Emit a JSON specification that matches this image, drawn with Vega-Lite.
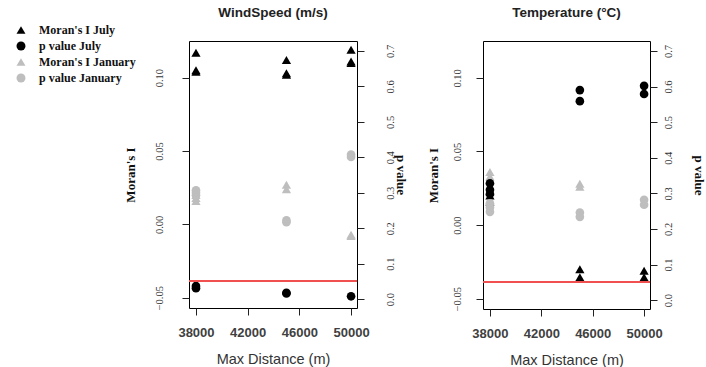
{
  "$schema": "https://vega.github.io/schema/vega-lite/v6.json",
  "padding": {"left": 15, "top": 5, "right": 0, "bottom": 0},
  "background": "white",
  "data": {"values": [
    {"panel": "wind", "dist": 38000, "series": "Moran's I July", "type": "I", "value": 0.117},
    {"panel": "wind", "dist": 38000, "series": "Moran's I July", "type": "I", "value": 0.105},
    {"panel": "wind", "dist": 38000, "series": "Moran's I July", "type": "I", "value": 0.104},
    {"panel": "wind", "dist": 45000, "series": "Moran's I July", "type": "I", "value": 0.112},
    {"panel": "wind", "dist": 45000, "series": "Moran's I July", "type": "I", "value": 0.103},
    {"panel": "wind", "dist": 45000, "series": "Moran's I July", "type": "I", "value": 0.102},
    {"panel": "wind", "dist": 50000, "series": "Moran's I July", "type": "I", "value": 0.119},
    {"panel": "wind", "dist": 50000, "series": "Moran's I July", "type": "I", "value": 0.111},
    {"panel": "wind", "dist": 50000, "series": "Moran's I July", "type": "I", "value": 0.110},
    {"panel": "wind", "dist": 38000, "series": "p value July", "type": "p", "value": 0.037},
    {"panel": "wind", "dist": 38000, "series": "p value July", "type": "p", "value": 0.031},
    {"panel": "wind", "dist": 45000, "series": "p value July", "type": "p", "value": 0.018},
    {"panel": "wind", "dist": 45000, "series": "p value July", "type": "p", "value": 0.016},
    {"panel": "wind", "dist": 50000, "series": "p value July", "type": "p", "value": 0.008},
    {"panel": "wind", "dist": 38000, "series": "Moran's I January", "type": "I", "value": 0.020},
    {"panel": "wind", "dist": 38000, "series": "Moran's I January", "type": "I", "value": 0.018},
    {"panel": "wind", "dist": 38000, "series": "Moran's I January", "type": "I", "value": 0.016},
    {"panel": "wind", "dist": 45000, "series": "Moran's I January", "type": "I", "value": 0.027},
    {"panel": "wind", "dist": 45000, "series": "Moran's I January", "type": "I", "value": 0.024},
    {"panel": "wind", "dist": 50000, "series": "Moran's I January", "type": "I", "value": -0.007},
    {"panel": "wind", "dist": 50000, "series": "Moran's I January", "type": "I", "value": -0.008},
    {"panel": "wind", "dist": 38000, "series": "p value January", "type": "p", "value": 0.307},
    {"panel": "wind", "dist": 38000, "series": "p value January", "type": "p", "value": 0.300},
    {"panel": "wind", "dist": 38000, "series": "p value January", "type": "p", "value": 0.293},
    {"panel": "wind", "dist": 45000, "series": "p value January", "type": "p", "value": 0.222},
    {"panel": "wind", "dist": 45000, "series": "p value January", "type": "p", "value": 0.217},
    {"panel": "wind", "dist": 50000, "series": "p value January", "type": "p", "value": 0.408},
    {"panel": "wind", "dist": 50000, "series": "p value January", "type": "p", "value": 0.401},
    {"panel": "temp", "dist": 38000, "series": "Moran's I July", "type": "I", "value": 0.023},
    {"panel": "temp", "dist": 38000, "series": "Moran's I July", "type": "I", "value": 0.020},
    {"panel": "temp", "dist": 38000, "series": "Moran's I July", "type": "I", "value": 0.016},
    {"panel": "temp", "dist": 45000, "series": "Moran's I July", "type": "I", "value": -0.030},
    {"panel": "temp", "dist": 45000, "series": "Moran's I July", "type": "I", "value": -0.0355},
    {"panel": "temp", "dist": 50000, "series": "Moran's I July", "type": "I", "value": -0.031},
    {"panel": "temp", "dist": 50000, "series": "Moran's I July", "type": "I", "value": -0.0355},
    {"panel": "temp", "dist": 38000, "series": "p value July", "type": "p", "value": 0.328},
    {"panel": "temp", "dist": 38000, "series": "p value July", "type": "p", "value": 0.310},
    {"panel": "temp", "dist": 38000, "series": "p value July", "type": "p", "value": 0.298},
    {"panel": "temp", "dist": 45000, "series": "p value July", "type": "p", "value": 0.590},
    {"panel": "temp", "dist": 45000, "series": "p value July", "type": "p", "value": 0.559},
    {"panel": "temp", "dist": 50000, "series": "p value July", "type": "p", "value": 0.602},
    {"panel": "temp", "dist": 50000, "series": "p value July", "type": "p", "value": 0.579},
    {"panel": "temp", "dist": 38000, "series": "Moran's I January", "type": "I", "value": 0.036},
    {"panel": "temp", "dist": 38000, "series": "Moran's I January", "type": "I", "value": 0.033},
    {"panel": "temp", "dist": 38000, "series": "Moran's I January", "type": "I", "value": 0.030},
    {"panel": "temp", "dist": 45000, "series": "Moran's I January", "type": "I", "value": 0.028},
    {"panel": "temp", "dist": 45000, "series": "Moran's I January", "type": "I", "value": 0.026},
    {"panel": "temp", "dist": 38000, "series": "p value January", "type": "p", "value": 0.272},
    {"panel": "temp", "dist": 38000, "series": "p value January", "type": "p", "value": 0.260},
    {"panel": "temp", "dist": 38000, "series": "p value January", "type": "p", "value": 0.248},
    {"panel": "temp", "dist": 45000, "series": "p value January", "type": "p", "value": 0.246},
    {"panel": "temp", "dist": 45000, "series": "p value January", "type": "p", "value": 0.234},
    {"panel": "temp", "dist": 50000, "series": "p value January", "type": "p", "value": 0.282},
    {"panel": "temp", "dist": 50000, "series": "p value January", "type": "p", "value": 0.268}
  ]},
  "spacing": 19,
  "hconcat": [
    {
      "width": 168,
      "height": 267,
      "title": {"text": "WindSpeed (m/s)", "frame": "group", "offset": 22},
      "layer": [
        {
          "transform": [{"filter": "datum.panel == 'wind' && datum.type == 'I'"}],
          "mark": {"type": "point", "filled": true, "opacity": 1},
          "encoding": {
            "x": {"field": "dist", "type": "quantitative", "scale": {"domain": [37460, 50460], "nice": false, "zero": false},
              "axis": {"title": "Max Distance (m)", "values": [38000, 40000, 42000, 44000, 46000, 48000, 50000],
                "labelExpr": "(datum.value - 38000) % 4000 == 0 ? format(datum.value, 'd') : ''"}},
            "y": {"field": "value", "type": "quantitative", "scale": {"domain": [-0.057, 0.125], "nice": false, "zero": false},
              "axis": {"orient": "left", "title": "Moran's I", "values": [-0.05, 0, 0.05, 0.1], "format": ".2f", "labelPadding": 18, "titlePadding": 17}},
            "color": {"field": "series", "type": "nominal", "scale": {"domain": ["Moran's I July", "p value July", "Moran's I January", "p value January"], "range": ["black", "black", "#bebebe", "#bebebe"]}, "legend": {"title": null}},
            "shape": {"field": "series", "type": "nominal", "scale": {"domain": ["Moran's I July", "p value July", "Moran's I January", "p value January"], "range": ["triangle-up", "circle", "triangle-up", "circle"]}, "legend": {"title": null}},
            "size": {"value": 85}
          }
        },
        {
          "transform": [{"filter": "datum.panel == 'wind' && datum.type == 'p'"}],
          "mark": {"type": "point", "filled": true, "opacity": 1},
          "encoding": {
            "x": {"field": "dist", "type": "quantitative"},
            "y": {"field": "value", "type": "quantitative", "scale": {"domain": [-0.025, 0.728], "nice": false, "zero": false},
              "axis": {"orient": "right", "title": "p value", "values": [0, 0.1, 0.2, 0.3, 0.4, 0.5, 0.6, 0.7], "format": ".1f", "labelPadding": 21, "titleX": 36}},
            "color": {"field": "series", "type": "nominal"},
            "shape": {"field": "series", "type": "nominal"},
            "size": {"value": 75}
          }
        },
        {
          "mark": {"type": "rule", "color": "#f05050", "strokeWidth": 1.2},
          "encoding": {
            "y": {"datum": 0.05, "type": "quantitative", "scale": {"domain": [-0.025, 0.728], "nice": false, "zero": false}, "axis": null}
          }
        }
      ],
      "resolve": {"scale": {"y": "independent"}}
    },
    {
      "width": 167,
      "height": 268,
      "title": {"text": "Temperature (°C)", "frame": "group", "offset": 22},
      "layer": [
        {
          "transform": [{"filter": "datum.panel == 'temp' && datum.type == 'I'"}],
          "mark": {"type": "point", "filled": true, "opacity": 1},
          "encoding": {
            "x": {"field": "dist", "type": "quantitative", "scale": {"domain": [37460, 50460], "nice": false, "zero": false},
              "axis": {"title": "Max Distance (m)", "values": [38000, 40000, 42000, 44000, 46000, 48000, 50000],
                "labelExpr": "(datum.value - 38000) % 4000 == 0 ? format(datum.value, 'd') : ''"}},
            "y": {"field": "value", "type": "quantitative", "scale": {"domain": [-0.057, 0.125], "nice": false, "zero": false},
              "axis": {"orient": "left", "title": "Moran's I", "values": [-0.05, 0, 0.05, 0.1], "format": ".2f", "labelPadding": 14, "titlePadding": 12}},
            "color": {"field": "series", "type": "nominal"},
            "shape": {"field": "series", "type": "nominal"},
            "size": {"value": 85}
          }
        },
        {
          "transform": [{"filter": "datum.panel == 'temp' && datum.type == 'p'"}],
          "mark": {"type": "point", "filled": true, "opacity": 1},
          "encoding": {
            "x": {"field": "dist", "type": "quantitative"},
            "y": {"field": "value", "type": "quantitative", "scale": {"domain": [-0.025, 0.728], "nice": false, "zero": false},
              "axis": {"orient": "right", "title": "p value", "values": [0, 0.1, 0.2, 0.3, 0.4, 0.5, 0.6, 0.7], "format": ".1f", "labelPadding": 6, "titleX": 41}},
            "color": {"field": "series", "type": "nominal"},
            "shape": {"field": "series", "type": "nominal"},
            "size": {"value": 75}
          }
        },
        {
          "mark": {"type": "rule", "color": "#f05050", "strokeWidth": 1.2},
          "encoding": {
            "y": {"datum": 0.05, "type": "quantitative", "scale": {"domain": [-0.025, 0.728], "nice": false, "zero": false}, "axis": null}
          }
        }
      ],
      "resolve": {"scale": {"y": "independent"}}
    }
  ],
  "config": {
    "view": {"stroke": "black", "strokeWidth": 1},
    "title": {"font": "Liberation Sans", "fontSize": 13.5, "fontWeight": "bold", "color": "#222222"},
    "axis": {"grid": false, "domain": false, "tickColor": "#222222", "tickSize": 7},
    "axisX": {"labelFont": "Liberation Sans", "labelFontSize": 13, "labelFontWeight": "bold", "labelColor": "#404040", "labelPadding": 11,
      "titleFont": "Liberation Sans", "titleFontSize": 14.5, "titleFontWeight": "normal", "titleColor": "#333333", "titlePadding": 13},
    "axisY": {"labelFont": "Liberation Serif", "labelFontSize": 10.5, "labelColor": "#333333", "labelAngle": 270,
      "titleFont": "Liberation Serif", "titleFontSize": 13, "titleFontWeight": "bold", "titleColor": "#111111"},
    "legend": {"orient": "none", "legendX": -174, "legendY": -17, "labelFont": "Liberation Serif", "labelFontSize": 12, "labelFontWeight": "bold", "labelColor": "#111111",
      "symbolSize": 80, "rowPadding": 4, "labelOffset": 12, "symbolStrokeWidth": 0}
  }
}
